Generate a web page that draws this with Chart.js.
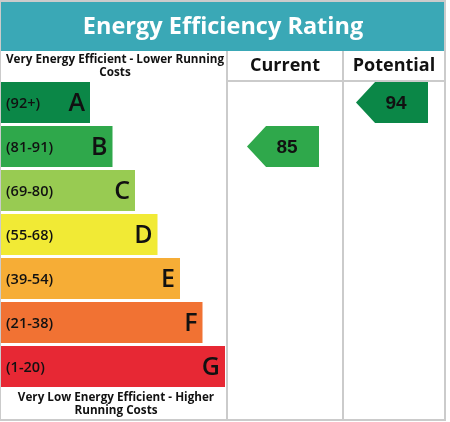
<!DOCTYPE html>
<html lang="en">
<head>
    <meta charset="UTF-8">
    <title>Energy Efficiency Rating</title>
    <style>
        body { margin: 0; background: #fff; }
        #wrap { width: 450px; height: 422px; }
    </style>
    <script src="https://cdn.jsdelivr.net/npm/chart.js"></script>
</head>
<body>
    <div id="wrap"><canvas id="epc" width="450" height="422"></canvas></div>

    <script>
        // bands, top (best) to bottom (worst)
        const bandLetters = ['A', 'B', 'C', 'D', 'E', 'F', 'G'];
        const bandRanges = ['(92+)', '(81-91)', '(69-80)', '(55-68)', '(39-54)', '(21-38)', '(1-20)'];
        const bandMins = [92, 81, 69, 55, 39, 21, 1];
        const bandLengths = [4, 5, 6, 7, 8, 9, 10];
        const currentRating = 85;
        const potentialRating = 94;

        const bandColors = ['#0b8747', '#2fa84b', '#98cb52', '#f1ea35', '#f6ad36', '#f17233', '#e72834'];
        const teal = '#3aa8b6';
        const lineGrey = '#cbcbcb';
        const font = '"Open Sans", sans-serif';

        function bandIndex(rating) {
            for (let i = 0; i < bandMins.length; i++) {
                if (rating >= bandMins[i]) return i;
            }
            return bandMins.length - 1;
        }

        const epcPlugin = {
            id: 'epc',
            afterDatasetsDraw(chart) {
                const ctx = chart.ctx;
                const meta = chart.getDatasetMeta(0);
                const yScale = chart.scales.y;

                ctx.save();
                // band labels
                ctx.textBaseline = 'middle';
                meta.data.forEach((bar, i) => {
                    ctx.fillStyle = '#111';
                    ctx.textAlign = 'left';
                    ctx.font = '600 14.5px ' + font;
                    ctx.fillText(bandRanges[i], 6, bar.y + 1);
                    ctx.textAlign = 'right';
                    ctx.font = '600 25px ' + font;
                    ctx.fillText(bandLetters[i], bar.x - 5, bar.y + 1);
                });

                // header band + title
                ctx.fillStyle = teal;
                ctx.fillRect(1, 2, 443, 49);
                ctx.fillStyle = '#fff';
                ctx.textAlign = 'center';
                ctx.font = 'bold 23.5px ' + font;
                ctx.fillText('Energy Efficiency Rating', 223, 27);

                // grid lines
                ctx.fillStyle = lineGrey;
                ctx.fillRect(0, 0, 446, 2);
                ctx.fillRect(0, 0, 1, 421);
                ctx.fillRect(444, 0, 2, 421);
                ctx.fillRect(0, 419, 446, 2);
                ctx.fillRect(226, 51, 2, 368);
                ctx.fillRect(342, 51, 2, 368);
                ctx.fillRect(226, 80, 218, 2);

                // column headers
                ctx.fillStyle = '#111';
                ctx.font = 'bold 18px ' + font;
                ctx.fillText('Current', 285, 66);
                ctx.fillText('Potential', 394, 66);

                ctx.font = 'bold 11.7px ' + font;
                ctx.fillText('Very Energy Efficient - Lower Running', 115, 60);
                ctx.fillText('Costs', 115, 73);
                ctx.fillText('Very Low Energy Efficient - Higher', 116, 398);
                ctx.fillText('Running Costs', 116, 411);

                // rating arrows
                const arrows = [
                    { rating: currentRating, center: 285 },
                    { rating: potentialRating, center: 394 }
                ];
                arrows.forEach(a => {
                    const i = bandIndex(a.rating);
                    const bar = meta.data[i];
                    const y = yScale.getPixelForValue(i);
                    const h = bar.height / 2;
                    const tip = a.center - 38;
                    const right = tip + 72;
                    ctx.fillStyle = bandColors[i];
                    ctx.beginPath();
                    ctx.moveTo(tip, y);
                    ctx.lineTo(tip + h * 0.93, y - h);
                    ctx.lineTo(right, y - h);
                    ctx.lineTo(right, y + h);
                    ctx.lineTo(tip + h * 0.93, y + h);
                    ctx.closePath();
                    ctx.fill();
                    ctx.fillStyle = '#111';
                    ctx.font = 'bold 19px "Liberation Sans", Arial, sans-serif';
                    ctx.fillText(String(a.rating), a.center + 2, y + 1);
                });
                ctx.restore();
            }
        };

        new Chart(document.getElementById('epc'), {
            type: 'bar',
            data: {
                labels: bandLetters,
                datasets: [{
                    data: bandLengths,
                    backgroundColor: bandColors,
                    borderWidth: 0,
                    barPercentage: 1,
                    categoryPercentage: 41 / 44
                }]
            },
            options: {
                indexAxis: 'y',
                responsive: false,
                animation: false,
                layout: { padding: { top: 80.5, bottom: 33.5, left: 0, right: 0 } },
                scales: {
                    x: { display: false, min: 0, max: 20 },
                    y: { display: false }
                },
                plugins: {
                    legend: { display: false },
                    tooltip: { enabled: false }
                }
            },
            plugins: [epcPlugin]
        });
    </script>
</body>
</html>
